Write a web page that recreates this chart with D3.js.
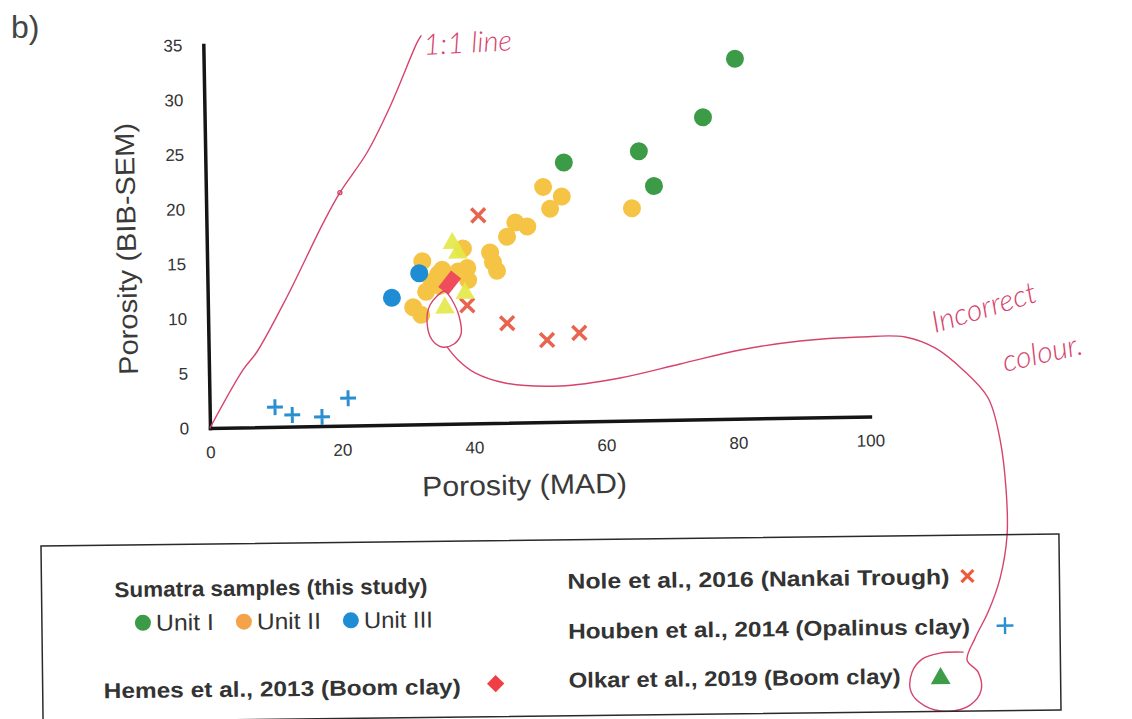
<!DOCTYPE html>
<html>
<head>
<meta charset="utf-8">
<script src="https://cdn.jsdelivr.net/npm/d3@7"></script>
<style>
  body { margin: 0; background: #fff; }
  svg { display: block; }
</style>
</head>
<body>
<div id="chart"></div>
<script>
// porosity pairs: [MAD, BIB-SEM]
const unitI = [[80.5, 32.9], [75.5, 27.6], [65.7, 24.6], [67.9, 21.4], [54.3, 23.7]];
const unitII = [[51.1, 21.5], [53.9, 20.6], [52.1, 19.5], [46.8, 18.3], [48.6, 17.9], [45.5, 17.0],
                [42.9, 15.6], [43.3, 14.7], [43.9, 13.9], [38.8, 16.0], [39.4, 14.2], [39.5, 13.1],
                [32.6, 14.9], [35.0, 13.7], [34.0, 13.0], [33.1, 12.1], [31.1, 10.7], [32.3, 10.0],
                [35.6, 14.1], [64.5, 19.4], [35.2, 12.6], [38.0, 13.9]];
const unitIII = [[27.9, 11.6], [32.1, 13.8]];
const nole2016 = [[41.2, 19.0], [39.3, 10.8], [45.3, 9.1], [51.3, 7.5], [56.2, 8.1]];
const houben2014 = [[9.9, 1.8], [12.5, 1.06], [17.0, 0.83], [21.0, 2.5]];
const hemes2013 = [[36.7, 12.9]];
const olkar2019 = [[37.2, 16.5], [38.0, 15.6], [39.0, 11.9], [35.9, 10.6]];

const xTicks = [0, 20, 40, 60, 80, 100];
const yTicks = [0, 5, 10, 15, 20, 25, 30, 35];

// hand-drawn pen marks, in the chart's own units
const oneToOneLine = [[0, 0], [5.15, 5.25], [7.3, 6.87], [12.0, 11.85], [17.7, 18.56], [20.3, 21.3],
                      [24.5, 24.9], [28.1, 29.05], [32.4, 34.9], [33.0, 35.5]];
const penLoop = [[35.8, 12.15], [33.66, 10.89], [33.16, 9.34], [33.87, 7.69], [35.37, 7.03], [37.19, 7.29],
                 [38.28, 8.19], [38.02, 9.84], [37.0, 11.31], [36.12, 12.05]];
const penTrail = [[36.12, 7.03], [37.76, 5.82], [40.3, 4.61], [44.82, 3.64], [53.14, 3.28], [62.25, 3.92],
                  [71.38, 5.10], [80.51, 6.28], [89.62, 7.01], [98.73, 7.28], [105.54, 7.21], [110.06, 6.16],
                  [114.24, 4.10], [117.96, 1.50], [119.67, -2.36], [120.44, -6.94], [120.47, -11.05],
                  [119.3, -14.97], [117.39, -18.06], [115.35, -20.42], [114.08, -22.41],
                  [115.72, -23.53], [116.13, -25.18], [114.42, -26.53], [111.07, -27.05], [107.6, -26.55],
                  [105.51, -25.25], [105.72, -23.42], [107.27, -22.25], [110.01, -21.73], [113.5, -21.68]];

const sumatraTitle = "Sumatra samples (this study)";
const unitNames = ["Unit I", "Unit II", "Unit III"];
const studyNames = ["Hemes et al., 2013 (Boom clay)", "Nole et al., 2016 (Nankai Trough)",
                    "Houben et al., 2014 (Opalinus clay)", "Olkar et al., 2019 (Boom clay)"];

const green = "#3c9b46", orange = "#f5c444", blue = "#1e8dd4", red = "#e8644f",
      pink = "#d6446c", ink = "#333";

const width = 660, height = 383;
const svg = d3.select("#chart").append("svg")
    .attr("width", 1132)
    .attr("height", 719);

svg.append("text")
    .attr("x", 11).attr("y", 38)
    .attr("font-family", "Liberation Sans, Arial, sans-serif")
    .attr("font-size", 32)
    .attr("fill", "#444")
    .text("b)");

// scanned page is a touch tilted
const g = svg.append("g")
    .attr("transform", `translate(210,45) rotate(-1, 0, ${height})`);

const x = d3.scaleLinear().domain([0, 100]).range([0, width]);
const y = d3.scaleLinear().domain([0, 35]).range([height, 0]);

const xAxis = g.append("g")
    .attr("transform", `translate(0,${height})`)
    .call(d3.axisBottom(x).tickValues(xTicks).tickSize(0).tickSizeOuter(0).tickPadding(18));
const yAxis = g.append("g")
    .call(d3.axisLeft(y).tickValues(yTicks).tickSize(0).tickSizeOuter(0).tickPadding(21));

[xAxis, yAxis].forEach(a => {
    a.select(".domain").attr("stroke", "#151515").attr("stroke-width", 3.5).attr("stroke-linecap", "square");
    a.selectAll("text")
        .attr("font-family", "Liberation Sans, Arial, sans-serif")
        .attr("font-size", 17)
        .attr("fill", ink);
});

g.append("text")
    .attr("x", x(47.5))
    .attr("y", height + 72)
    .attr("text-anchor", "middle")
    .attr("font-family", "Liberation Sans, Arial, sans-serif")
    .attr("font-size", 28)
    .attr("textLength", 205).attr("lengthAdjust", "spacingAndGlyphs")
    .attr("fill", "#3a3a3a")
    .text("Porosity (MAD)");

g.append("text")
    .attr("transform", `translate(-71,${y(16.5)}) rotate(-90)`)
    .attr("text-anchor", "middle")
    .attr("font-family", "Liberation Sans, Arial, sans-serif")
    .attr("font-size", 27)
    .attr("textLength", 252).attr("lengthAdjust", "spacingAndGlyphs")
    .attr("fill", "#3a3a3a")
    .text("Porosity (BIB-SEM)");

const pos = d => `translate(${x(d[0])},${y(d[1])})`;

function circles(data, color) {
    g.append("g").selectAll("circle")
        .data(data)
        .join("circle")
        .attr("cx", d => x(d[0]))
        .attr("cy", d => y(d[1]))
        .attr("r", 9)
        .attr("fill", color);
}
circles(unitII, orange);
circles(unitIII, blue);
circles(unitI, green);

g.append("g").selectAll("path")
    .data(nole2016)
    .join("path")
    .attr("transform", pos)
    .attr("d", d3.symbol(d3.symbolX, 128))
    .attr("fill", "none")
    .attr("stroke", red)
    .attr("stroke-width", 3.5);

g.append("g").selectAll("path")
    .data(houben2014)
    .join("path")
    .attr("transform", d => pos(d) + " rotate(45)")
    .attr("d", d3.symbol(d3.symbolX, 84))
    .attr("fill", "none")
    .attr("stroke", "#2a8fd0")
    .attr("stroke-width", 3);

g.append("g").selectAll("path")
    .data(olkar2019)
    .join("path")
    .attr("transform", pos)
    .attr("d", d3.symbol(d3.symbolTriangle, 165))
    .attr("fill", "#e4e84a")
    .attr("opacity", 0.92);

g.append("g").selectAll("path")
    .data(hemes2013)
    .join("path")
    .attr("transform", d => pos(d) + " rotate(-51) scale(1.3,0.8)")
    .attr("d", d3.symbol(d3.symbolSquare, 256))
    .attr("fill", "#ef4d5c");

// pen annotations
const pen = d3.line().x(d => x(d[0])).y(d => y(d[1])).curve(d3.curveCatmullRom);
const penLayer = g.append("g")
    .attr("fill", "none")
    .attr("stroke", pink)
    .attr("stroke-width", 1.4)
    .attr("stroke-linecap", "round");
penLayer.append("path").attr("d", pen(oneToOneLine));
penLayer.append("path").attr("d", d3.line().x(d => x(d[0])).y(d => y(d[1])).curve(d3.curveCatmullRomClosed)(penLoop));
penLayer.append("path").attr("d", pen(penTrail));
penLayer.append("circle")
    .attr("cx", x(oneToOneLine[5][0])).attr("cy", y(oneToOneLine[5][1]))
    .attr("r", 2);

const hand = sel => sel
    .attr("font-family", "Lato, 'DejaVu Sans', sans-serif")
    .attr("font-style", "italic")
    .attr("font-weight", 300)
    .attr("fill", pink);

svg.append("text")
    .attr("transform", "translate(424,55) rotate(-3)")
    .attr("font-size", 29)
    .call(hand)
    .text("1:1 line");
svg.append("text")
    .attr("transform", "translate(935,333) rotate(-17)")
    .attr("font-size", 30)
    .call(hand)
    .text("Incorrect");
svg.append("text")
    .attr("transform", "translate(1005,372) rotate(-13)")
    .attr("font-size", 30)
    .call(hand)
    .text("colour.");

// legend
const legend = svg.append("g")
    .attr("transform", "rotate(-0.68, 551, 628)")
    .attr("font-family", "Liberation Sans, Arial, sans-serif")
    .attr("fill", ink);

legend.append("rect")
    .attr("x", 42).attr("y", 540)
    .attr("width", 1018).attr("height", 176)
    .attr("fill", "none")
    .attr("stroke", "#2a2a2a")
    .attr("stroke-width", 1.5);

legend.append("text")
    .attr("x", 115).attr("y", 592)
    .attr("font-size", 21.5).attr("font-weight", "bold")
    .attr("textLength", 313).attr("lengthAdjust", "spacingAndGlyphs")
    .text(sumatraTitle);

const unitColors = [green, "#f4a34b", blue];
const unitX = [143, 244, 351];
const unitTextLen = [58, 64, 69];
unitNames.forEach((name, i) => {
    legend.append("circle")
        .attr("cx", unitX[i]).attr("cy", 618).attr("r", 8)
        .attr("fill", unitColors[i]);
    legend.append("text")
        .attr("x", unitX[i] + 13).attr("y", 626)
        .attr("font-size", 23)
        .attr("textLength", unitTextLen[i]).attr("lengthAdjust", "spacingAndGlyphs")
        .text(name);
});

const studyX = [103, 568, 568, 568];
const studyY = [693, 589, 639, 688];
const studyLen = [357, 382, 402, 332];
studyNames.forEach((name, i) => {
    legend.append("text")
        .attr("x", studyX[i]).attr("y", studyY[i])
        .attr("font-size", 21.5).attr("font-weight", "bold")
        .attr("textLength", studyLen[i]).attr("lengthAdjust", "spacingAndGlyphs")
        .text(name);
});

legend.append("path")
    .attr("transform", "translate(495,683) rotate(45)")
    .attr("d", d3.symbol(d3.symbolSquare, 150))
    .attr("fill", "#ef3f45");
legend.append("path")
    .attr("transform", "translate(968,581)")
    .attr("d", d3.symbol(d3.symbolX, 95))
    .attr("fill", "none").attr("stroke", "#ef5a3a").attr("stroke-width", 3.2);
legend.append("path")
    .attr("transform", "translate(1005,631) rotate(45)")
    .attr("d", d3.symbol(d3.symbolX, 95))
    .attr("fill", "none").attr("stroke", "#2a8fd0").attr("stroke-width", 2.4);
legend.append("path")
    .attr("transform", "translate(940,683)")
    .attr("d", d3.symbol(d3.symbolTriangle, 170))
    .attr("fill", "#3d9c47");
</script>
</body>
</html>
